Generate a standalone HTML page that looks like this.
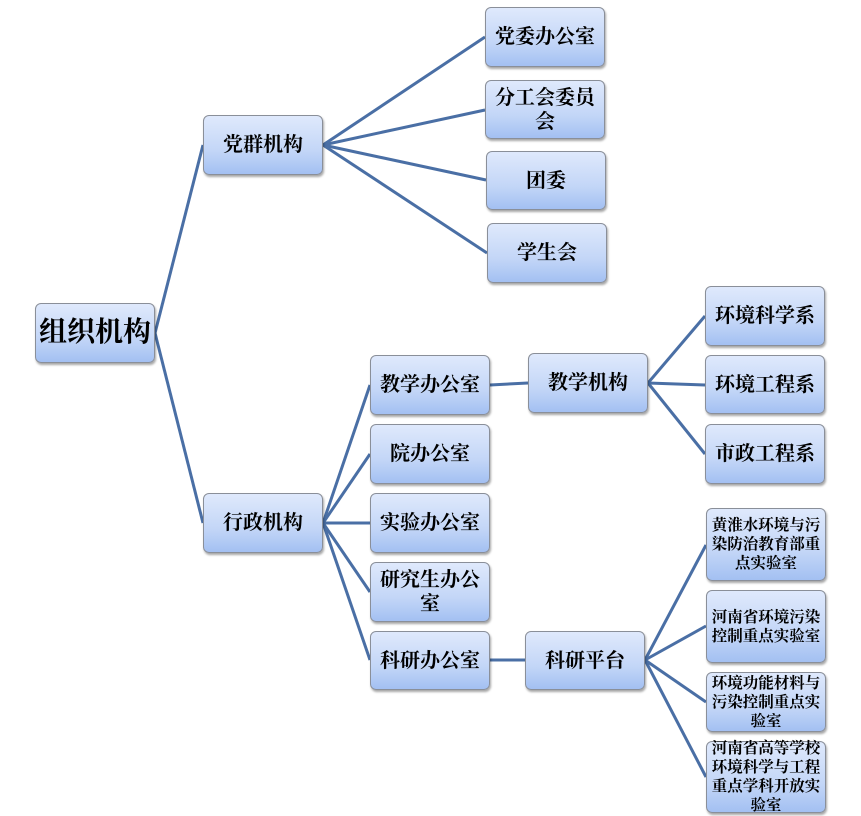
<!DOCTYPE html>
<html><head><meta charset="utf-8"><style>
body{margin:0;width:861px;height:816px;background:#fff;position:relative;overflow:hidden;font-family:"Liberation Serif","Noto Serif CJK SC",serif;}
.b{position:absolute;box-sizing:border-box;border:1px solid #8a8f99;border-radius:6px;background:linear-gradient(#dfe9fc,#c3d6f7 60%,#a3c0f2);box-shadow:1px 2px 2px rgba(0,0,0,0.35);display:flex;align-items:center;justify-content:center;text-align:center;font-size:20px;font-weight:bold;color:#000;line-height:24px;}
.s{font-size:15.5px;line-height:19px;padding:0 2px;}
svg{position:absolute;left:0;top:0}
</style></head><body>
<svg width="861" height="816"><g stroke="#4a6fa5" stroke-width="3" fill="none">
<line x1="155" y1="333" x2="203" y2="145"/><line x1="155" y1="333" x2="203" y2="523"/>
<line x1="323" y1="145" x2="485" y2="37"/><line x1="323" y1="145" x2="485" y2="110"/><line x1="323" y1="145" x2="486" y2="180"/><line x1="323" y1="145" x2="487" y2="253"/>
<line x1="323" y1="523" x2="370" y2="385"/><line x1="323" y1="523" x2="370" y2="454"/><line x1="323" y1="523" x2="370" y2="523"/><line x1="323" y1="523" x2="370" y2="592"/><line x1="323" y1="523" x2="370" y2="660"/>
<line x1="490" y1="385" x2="528" y2="383"/>
<line x1="648" y1="383" x2="705" y2="316"/><line x1="648" y1="383" x2="705" y2="385"/><line x1="648" y1="383" x2="705" y2="454"/>
<line x1="490" y1="660" x2="525" y2="660"/>
<line x1="645" y1="660" x2="706" y2="545"/><line x1="645" y1="660" x2="706" y2="626"/><line x1="645" y1="660" x2="706" y2="702"/><line x1="645" y1="660" x2="706" y2="777"/>
</g></svg>
<div class="b" style="left:35px;top:303px;width:120px;height:60px;font-size:28px;line-height:32px">组织机构</div>
<div class="b" style="left:203px;top:115px;width:120px;height:60px">党群机构</div>
<div class="b" style="left:203px;top:493px;width:120px;height:60px">行政机构</div>
<div class="b" style="left:485px;top:7px;width:120px;height:60px">党委办公室</div>
<div class="b" style="left:485px;top:80px;width:120px;height:59px">分工会委员<br>会</div>
<div class="b" style="left:486px;top:151px;width:120px;height:59px">团委</div>
<div class="b" style="left:487px;top:223px;width:120px;height:60px">学生会</div>
<div class="b" style="left:370px;top:355px;width:120px;height:60px">教学办公室</div>
<div class="b" style="left:370px;top:424px;width:120px;height:60px">院办公室</div>
<div class="b" style="left:370px;top:493px;width:120px;height:60px">实验办公室</div>
<div class="b" style="left:370px;top:562px;width:120px;height:60px">研究生办公<br>室</div>
<div class="b" style="left:370px;top:631px;width:120px;height:59px">科研办公室</div>
<div class="b" style="left:528px;top:353px;width:120px;height:60px">教学机构</div>
<div class="b" style="left:525px;top:631px;width:120px;height:59px">科研平台</div>
<div class="b" style="left:705px;top:286px;width:120px;height:60px">环境科学系</div>
<div class="b" style="left:705px;top:355px;width:120px;height:59px">环境工程系</div>
<div class="b" style="left:705px;top:424px;width:120px;height:60px">市政工程系</div>
<div class="b s" style="left:706px;top:508px;width:120px;height:73px">黄淮水环境与污染防治教育部重点实验室</div>
<div class="b s" style="left:706px;top:590px;width:120px;height:73px">河南省环境污染控制重点实验室</div>
<div class="b s" style="left:706px;top:672px;width:120px;height:60px">环境功能材料与污染控制重点实验室</div>
<div class="b s" style="left:706px;top:741px;width:120px;height:72px">河南省高等学校环境科学与工程重点学科开放实验室</div>
</body></html>
